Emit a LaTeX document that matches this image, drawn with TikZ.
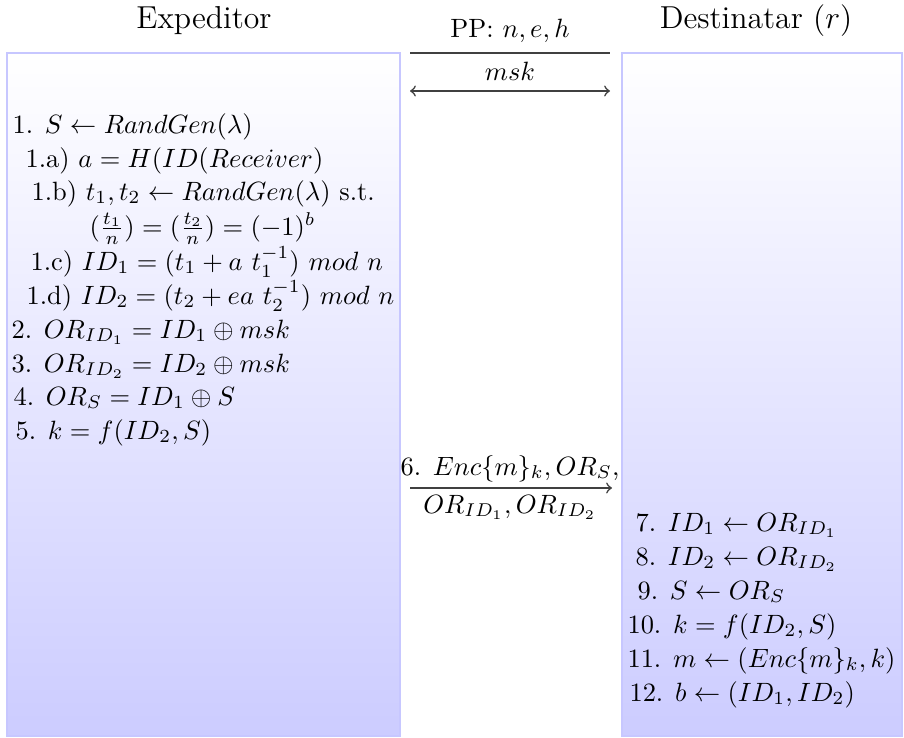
\documentclass[tikz,border=0pt]{standalone}
\begin{document}
\begin{tikzpicture}[x=0.378pt,y=-0.378pt,
  box/.style={draw=blue!22, line width=1pt, top color=white, bottom color=blue!20},
  ttl/.style={inner sep=0pt, anchor=base, font=\large},
  ln/.style={inner sep=0pt, anchor=base west},
  lbl/.style={inner sep=0pt, anchor=base},
  msg/.style={line width=0.6pt, black!75}
]
\useasboundingbox (0,0) rectangle (904,737);
% boxes
\path[box] (7,53) rectangle (400,736);
\path[box] (622,53) rectangle (902,736);
% titles
\node[ttl] (tS) at (204,28) {Expeditor};
\node[ttl] (tR) at (756,28) {Destinatar $(r)$};
\node[lbl] (pp) at (510,37) {PP: $n,e,h$};
\node[lbl] (mk) at (510,80) {$msk$};
% public parameters line and msk arrow
\coordinate (ppL) at (410,53);
\coordinate (ppR) at (610,53);
\draw[msg] (ppL) -- (ppR);
\coordinate (mkL) at (410,91);
\coordinate (mkR) at (610,91);
\draw[msg,<->] (mkL) -- (mkR);
% sender steps
\node[ln] (s1)  at (12,133)  {1. $S \leftarrow RandGen(\lambda)$};
\node[ln] (s1a) at (25,167)  {1.a) $a = H(ID(Receiver)$};
\node[ln] (s1b) at (31,200)  {1.b) $t_1, t_2 \leftarrow RandGen(\lambda)$ s.t.};
\node[ln] (s1f) at (89,235)  {$(\frac{t_1}{n}) = (\frac{t_2}{n}) = (-1)^b$};
\node[ln] (s1c) at (30,270)  {1.c) $ID_1 = (t_1 + a\ t_1^{-1})\ mod\ n$};
\node[ln] (s1d) at (26,304)  {1.d) $ID_2 = (t_2 + ea\ t_2^{-1})\ mod\ n$};
\node[ln] (s2)  at (11,338)  {2. $OR_{ID_1} = ID_1 \oplus msk$};
\node[ln] (s3)  at (11,372)  {3. $OR_{ID_2} = ID_2 \oplus msk$};
\node[ln] (s4)  at (13,405)  {4. $OR_S = ID_1 \oplus S$};
\node[ln] (s5)  at (15,439)  {5. $k = f(ID_2, S)$};
% message 6
\coordinate (m6L) at (410,488);
\coordinate (m6R) at (612,488);
\draw[msg,->] (m6L) -- (m6R);
\node[lbl] (m6a) at (510,475) {6. $Enc\{m\}_k, OR_S$,};
\node[lbl] (m6b) at (510,513) {$OR_{ID_1}, OR_{ID_2}$};
% receiver steps
\node[ln] (r7)  at (635,531) {7. $ID_1 \leftarrow OR_{ID_1}$};
\node[ln] (r8)  at (635,565) {8. $ID_2 \leftarrow OR_{ID_2}$};
\node[ln] (r9)  at (637,599) {9. $S \leftarrow OR_S$};
\node[ln] (r10) at (627,633) {10. $k = f(ID_2, S)$};
\node[ln] (r11) at (627,667) {11. $m \leftarrow (Enc\{m\}_k, k)$};
\node[ln] (r12) at (629,701) {12. $b \leftarrow (ID_1, ID_2)$};
\end{tikzpicture}
\end{document}
